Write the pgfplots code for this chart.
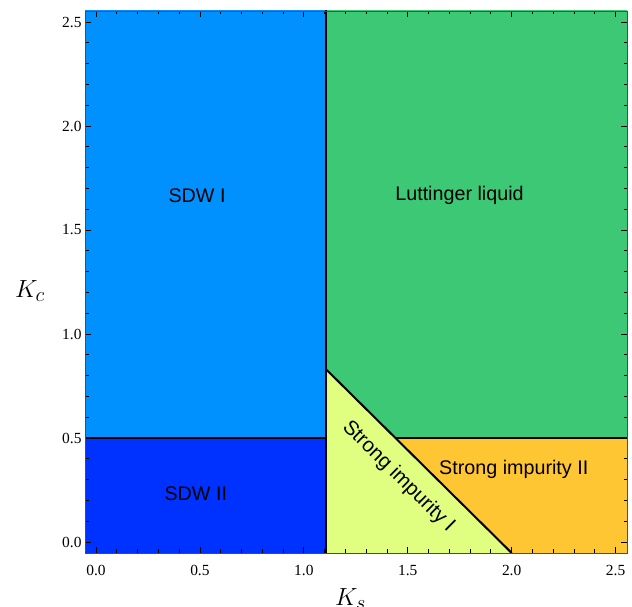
\documentclass[border=0pt]{standalone}
\usepackage{fontspec}
\setmainfont{Liberation Serif}
\newfontfamily\arialf{Liberation Sans}
\usepackage{pgfplots}
\pgfplotsset{compat=1.18}
\definecolor{sdwone}{RGB}{0,145,255}
\definecolor{sdwtwo}{RGB}{0,50,255}
\definecolor{lutt}{RGB}{60,200,116}
\definecolor{simpone}{RGB}{224,255,128}
\definecolor{simptwo}{RGB}{255,198,52}
\begin{document}
\begin{tikzpicture}
\useasboundingbox (0,0) rectangle (632bp,607bp);
\begin{axis}[
  at={(85bp,54bp)}, anchor=south west,
  width=542bp, height=542bp, scale only axis,
  xmin=-0.053, xmax=2.555, ymin=-0.053, ymax=2.553,
  xtick={0,0.5,1,1.5,2,2.5}, ytick={0,0.5,1,1.5,2,2.5},
  minor tick num=4,
  tick align=inside,
  major tick length=6bp, minor tick length=3.5bp,
  every tick/.style={black, line width=0.8bp},
  axis line style={gray!60!black, line width=0.8bp},
  ticklabel style={font=\fontsize{15.5}{18}\selectfont},
  xticklabel style={yshift=-9bp},
  /pgf/number format/fixed, /pgf/number format/fixed zerofill,
  /pgf/number format/precision=1, /pgf/number format/assume math mode=true,
  axis on top,
  xlabel={$K_s$}, ylabel={$K_c$},
  xlabel style={at={(axis description cs:0.49,-0.097)}, anchor=base, font=\fontsize{31}{33}\selectfont},
  ylabel style={at={(axis description cs:-0.1015,0.483)}, anchor=center, rotate=-90, font=\fontsize{31}{33}\selectfont},
]
\addplot[draw=none, fill=sdwone] coordinates {(-0.1,0.5) (1.105,0.5) (1.105,2.6) (-0.1,2.6)} -- cycle;
\addplot[draw=none, fill=sdwtwo] coordinates {(-0.1,-0.1) (1.105,-0.1) (1.105,0.5) (-0.1,0.5)} -- cycle;
\addplot[draw=none, fill=lutt] coordinates {(1.105,0.832) (1.105,2.6) (2.6,2.6) (2.6,0.5) (1.441,0.5)} -- cycle;
\addplot[draw=none, fill=simpone] coordinates {(1.105,-0.1) (1.105,0.832) (2.0,-0.053) (2.0,-0.1)} -- cycle;
\addplot[draw=none, fill=simptwo] coordinates {(1.441,0.5) (2.6,0.5) (2.6,-0.1) (2.0,-0.1) (2.0,-0.053)} -- cycle;
\addplot[black, line width=2bp] coordinates {(1.105,-0.1) (1.105,2.6)};
\addplot[black, line width=2bp] coordinates {(-0.1,0.5) (1.105,0.5)};
\addplot[black, line width=2bp] coordinates {(1.441,0.5) (2.6,0.5)};
\addplot[black, line width=2bp] coordinates {(1.105,0.832) (2.0,-0.053)};
\node[font=\arialf\fontsize{19.8}{22}\selectfont] at (axis cs:0.486,1.665) {SDW I};
\node[font=\arialf\fontsize{19.8}{22}\selectfont] at (axis cs:1.749,1.665) {Luttinger liquid};
\node[font=\arialf\fontsize{19.8}{22}\selectfont] at (axis cs:0.48,0.23) {SDW II};
\node[font=\arialf\fontsize{19.8}{22}\selectfont] at (axis cs:2.01,0.35) {Strong impurity II};
\node[font=\arialf\fontsize{20.5}{22}\selectfont, rotate=-44.6] at (axis cs:1.455,0.315) {Strong impurity I};
\end{axis}
\end{tikzpicture}
\end{document}
